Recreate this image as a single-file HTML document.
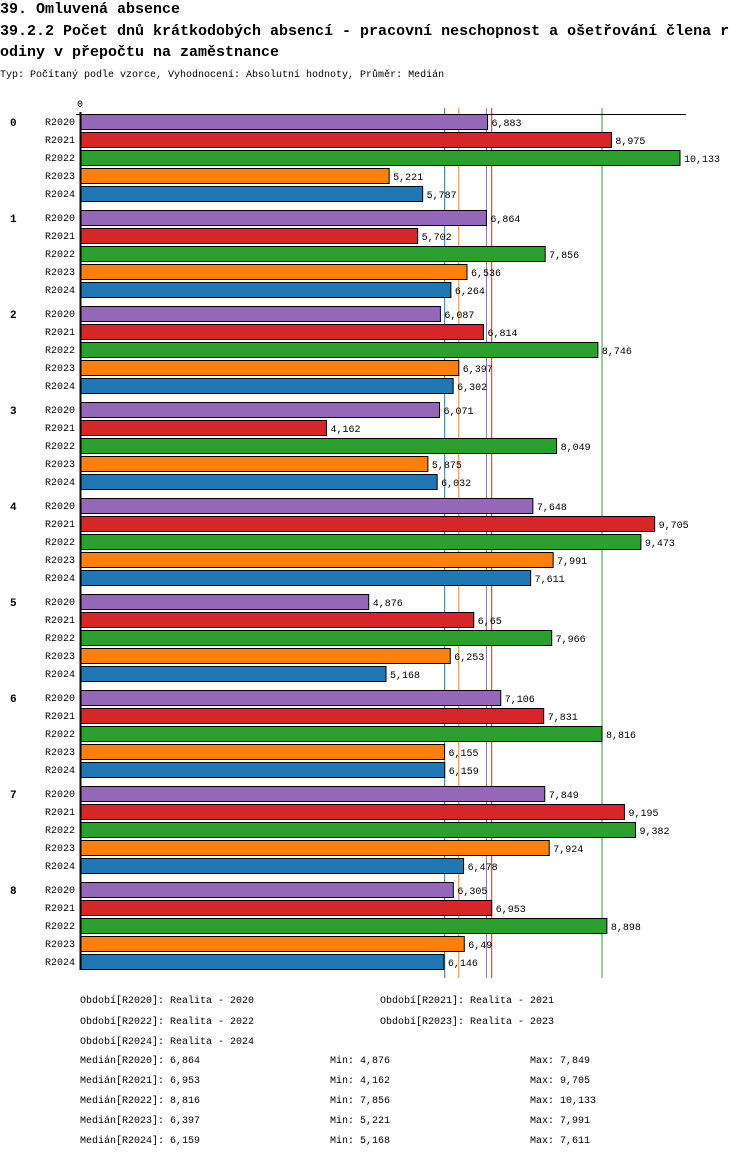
<!DOCTYPE html>
<html><head><meta charset="utf-8">
<style>
body{margin:0;background:#fff;width:750px;height:1158px;overflow:hidden;font-family:"Liberation Mono",monospace;}
svg text{font-family:"Liberation Mono",monospace;}
</style></head>
<body>
<svg id="chart" width="750" height="1158" xmlns="http://www.w3.org/2000/svg">
<text x="0" y="13" font-size="15" font-weight="bold">39. Omluvená absence</text>
<text x="0" y="35" font-size="15" font-weight="bold">39.2.2 Počet dnů krátkodobých absencí - pracovní neschopnost a ošetřování člena r</text>
<text x="0" y="56" font-size="15" font-weight="bold">odiny v přepočtu na zaměstnance</text>
<text x="0" y="77" font-size="10">Typ: Počítaný podle vzorce, Vyhodnocení: Absolutní hodnoty, Průměr: Medián</text>
<g id="plot"></g>
<g id="legend"></g>
</svg>
<script>
const groups=["0","1","2","3","4","5","6","7","8"];
const series=["R2020","R2021","R2022","R2023","R2024"];
const colors=["#9467bd","#d62728","#2ca02c","#ff7f0e","#1f77b4"];
const v2020=[6.883,6.864,6.087,6.071,7.648,4.876,7.106,7.849,6.305];
const v2021=[8.975,5.702,6.814,4.162,9.705,6.65,7.831,9.195,6.953];
const v2022=[10.133,7.856,8.746,8.049,9.473,7.966,8.816,9.382,8.898];
const v2023=[5.221,6.536,6.397,5.875,7.991,6.253,6.155,7.924,6.49];
const v2024=[5.787,6.264,6.302,6.032,7.611,5.168,6.159,6.478,6.146];
const medians=[6.864,6.953,8.816,6.397,6.159];
const mins=[4.876,4.162,7.856,5.221,5.168];
const maxs=[7.849,9.705,10.133,7.991,7.611];
const labels=["Realita - 2020","Realita - 2021","Realita - 2022","Realita - 2023","Realita - 2024"];
const all=[v2020,v2021,v2022,v2023,v2024];
const NS="http://www.w3.org/2000/svg";
const x0=80, scale=600/10.133;
const xs=v=>x0+v*scale;
const ys=(g,s)=>114+g*96+s*18;
const plot=document.getElementById('plot');
function mk(tag,attrs,parent){const e=document.createElementNS(NS,tag);for(const k in attrs)e.setAttribute(k,attrs[k]);parent.appendChild(e);return e;}
function fmt(v){return String(Math.round(v*1000)/1000).replace('.',',');}
let zt=mk('text',{x:80,y:107,'font-size':10,'text-anchor':'middle'},plot);zt.textContent='0';


medians.forEach((m,i)=>{
  const l=mk('line',{x1:xs(m),x2:xs(m),y1:108,y2:978,stroke:colors[i],'stroke-width':1},plot);
  
  
});
const topLine=mk('line',{x1:76,x2:686,y1:114.5,y2:114.5,stroke:'#000','stroke-width':1},plot);


groups.forEach((g,gi)=>{
  const gl=mk('text',{x:10,y:ys(gi,0)+12,'font-size':11,'font-weight':'bold'},plot);gl.textContent=g;
  
  
  series.forEach((s,si)=>{
    const y=ys(gi,si), v=all[si][gi];
    const sl=mk('text',{x:75,y:y+11,'font-size':10,'text-anchor':'end'},plot);sl.textContent=s;
    
    
    const r=mk('rect',{x:x0,y:y+0.5,width:xs(v)-x0,height:15,fill:colors[si],stroke:'#000','stroke-width':1},plot);
    
    
    const vl=mk('text',{x:xs(v)+4,y:y+12,'font-size':10},plot);vl.textContent=fmt(v);
    
    
  });
});
const yAxisLine=mk('line',{x1:80.5,x2:80.5,y1:112,y2:970,stroke:'#000','stroke-width':2},plot);


const lg=document.getElementById('legend');
const lpos=[[80,1003],[380,1003],[80,1024],[380,1024],[80,1044]];
series.forEach((s,i)=>{
  const e=mk('text',{x:lpos[i][0],y:lpos[i][1],'font-size':10},lg);e.textContent='Období['+s+']: '+labels[i];
  
  
  const y=1063+i*20;
  const a=mk('text',{x:80,y:y,'font-size':10},lg);a.textContent='Medián['+s+']: '+fmt(medians[i]);
  
  
  const b=mk('text',{x:330,y:y,'font-size':10},lg);b.textContent='Min: '+fmt(mins[i]);
  
  
  const c=mk('text',{x:530,y:y,'font-size':10},lg);c.textContent='Max: '+fmt(maxs[i]);
  
  
});
</script>
</body></html>
